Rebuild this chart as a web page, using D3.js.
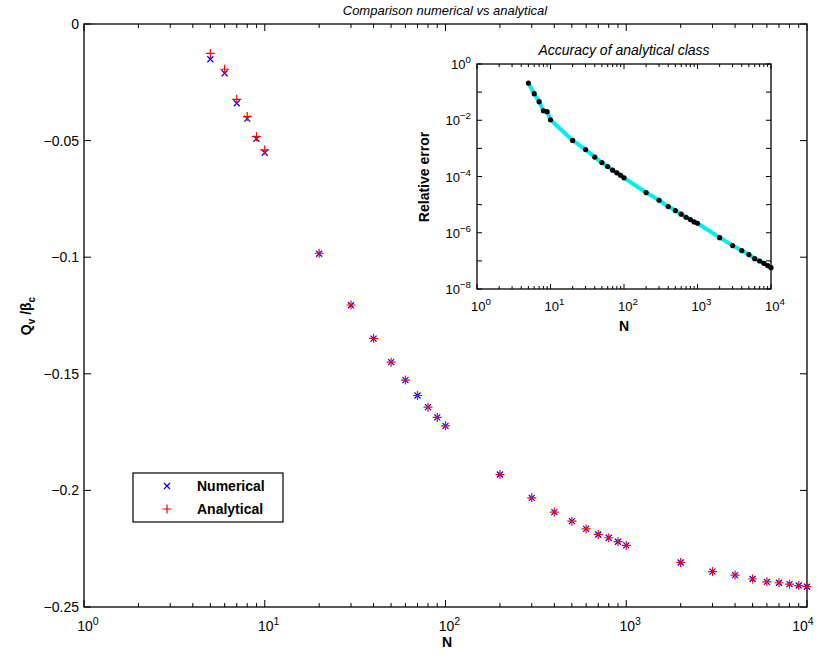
<!DOCTYPE html>
<html><head><meta charset="utf-8">
<script src="https://cdn.jsdelivr.net/npm/d3@7"></script>
<style>body{margin:0;background:#fff}svg{display:block;font-family:"Liberation Sans",Arial,sans-serif}</style>
</head><body>
<svg id="c" width="818" height="657"></svg>
<script>
const N = [5,6,7,8,9,10,20,30,40,50,60,70,80,90,100,200,300,400,500,600,700,800,900,1000,2000,3000,4000,5000,6000,7000,8000,9000,10000];
const numerical = [-0.0151,-0.0211,-0.0340,-0.0406,-0.0492,-0.0552,-0.0985,-0.1206,-0.1349,-0.1450,-0.1527,-0.1593,-0.1643,-0.1687,-0.1723,-0.1932,-0.2032,-0.2093,-0.2132,-0.2165,-0.2189,-0.2203,-0.2220,-0.2236,-0.2309,-0.2348,-0.2363,-0.2380,-0.2392,-0.2396,-0.2402,-0.2408,-0.2413];
const analytical = [-0.0126,-0.0194,-0.0323,-0.0397,-0.0483,-0.0540,-0.0983,-0.1205,-0.1348,-0.1450,-0.1527,-0.1593,-0.1643,-0.1687,-0.1723,-0.1932,-0.2032,-0.2093,-0.2132,-0.2165,-0.2189,-0.2203,-0.2220,-0.2236,-0.2309,-0.2348,-0.2363,-0.2380,-0.2392,-0.2396,-0.2402,-0.2408,-0.2413];
const relError = [0.21,0.088,0.0456,0.0218,0.0201,0.0104,1.91e-3,9.1e-4,4.9e-4,3.15e-4,2.27e-4,1.68e-4,1.35e-4,1.11e-4,8.97e-5,2.69e-5,1.43e-5,8.5e-6,6.15e-6,4.56e-6,3.56e-6,2.94e-6,2.43e-6,2.18e-6,6.7e-7,3.5e-7,2.32e-7,1.67e-7,1.2e-7,9.9e-8,8.2e-8,6.8e-8,5.75e-8];
const yTicks = [0,-0.05,-0.1,-0.15,-0.2,-0.25];
const yTickLabels = ["0","\u22120.05","\u22120.1","\u22120.15","\u22120.2","\u22120.25"];
const xDecades = [0,1,2,3,4];
const insetYDecades = [0,-2,-4,-6,-8];

const svg = d3.select("#c");
const FONT = "'Liberation Sans',Arial,sans-serif";

const x = d3.scaleLog().domain([1,1e4]).range([84,807]);
const y = d3.scaleLinear().domain([-0.25,0]).range([607,24]);

function drawLogXTicks(g, sx, yb, yt, majLen, minLen) {
  const lo = Math.log10(sx.domain()[0]), hi = Math.log10(sx.domain()[1]);
  const mins = [];
  for (let d=lo; d<hi; d++) for (let k=2;k<=9;k++) mins.push(k*Math.pow(10,d));
  const majs = d3.range(lo, hi+1).map(d=>Math.pow(10,d));
  majs.forEach(v=>{
    g.append("line").attr("x1",sx(v)).attr("x2",sx(v)).attr("y1",yb).attr("y2",yb-majLen).attr("stroke","#000");
    g.append("line").attr("x1",sx(v)).attr("x2",sx(v)).attr("y1",yt).attr("y2",yt+majLen).attr("stroke","#000");
  });
  mins.forEach(v=>{
    g.append("line").attr("x1",sx(v)).attr("x2",sx(v)).attr("y1",yb).attr("y2",yb-minLen).attr("stroke","#000");
    g.append("line").attr("x1",sx(v)).attr("x2",sx(v)).attr("y1",yt).attr("y2",yt+minLen).attr("stroke","#000");
  });
}
function powLabel(g, px, py, exp, size, anchor) {
  const t = g.append("text").attr("x",px).attr("y",py).attr("font-size",size).attr("font-family",FONT).attr("text-anchor",anchor||"middle");
  t.append("tspan").text("10");
  t.append("tspan").attr("dy",-size*0.45).attr("font-size",size*0.75).text(exp<0 ? "\u2212"+(-exp) : String(exp));
  return t;
}

const main = svg.append("g");
drawLogXTicks(main, x, 607, 24, 7, 4);
yTicks.forEach((v,i)=>{
  main.append("line").attr("x1",84).attr("x2",91).attr("y1",y(v)).attr("y2",y(v)).attr("stroke","#000");
  main.append("line").attr("x1",807).attr("x2",800).attr("y1",y(v)).attr("y2",y(v)).attr("stroke","#000");
  main.append("text").attr("x",79).attr("y",y(v)+5).attr("text-anchor","end").attr("font-size",14).attr("font-family",FONT).text(yTickLabels[i]);
});
xDecades.forEach(d=>powLabel(main, Math.min(x(Math.pow(10,d))+4, 803), 631, d, 14));
main.append("rect").attr("x",84).attr("y",24).attr("width",723).attr("height",583).attr("fill","none").attr("stroke","#000").attr("stroke-width",1.3);

svg.append("text").attr("x",445).attr("y",15).attr("text-anchor","middle").attr("font-size",13).attr("font-style","italic").attr("font-family",FONT).text("Comparison numerical vs analytical");
svg.append("text").attr("x",447).attr("y",647).attr("text-anchor","middle").attr("font-size",14).attr("font-weight","bold").attr("font-family",FONT).text("N");
const yl = svg.append("text").attr("transform","translate(31,316) rotate(-90)").attr("text-anchor","middle").attr("font-size",14).attr("font-weight","bold").attr("font-family",FONT);
yl.append("tspan").text("Q");
yl.append("tspan").attr("dy",4).attr("font-size",10).text("v");
yl.append("tspan").attr("dy",-4).text(" /\u03B2");
yl.append("tspan").attr("dy",4).attr("font-size",10).text("c");

const pts = main.append("g");
N.forEach((n,i)=>{
  const cx = x(n), cy = y(numerical[i]), s=3;
  pts.append("path").attr("d",`M${cx-s},${cy-s}L${cx+s},${cy+s}M${cx-s},${cy+s}L${cx+s},${cy-s}`).attr("stroke","#0000ff").attr("stroke-width",1.2).attr("fill","none");
});
N.forEach((n,i)=>{
  const cx = x(n), cy = y(analytical[i]), s=4.5;
  pts.append("path").attr("d",`M${cx-s},${cy}L${cx+s},${cy}M${cx},${cy-s}L${cx},${cy+s}`).attr("stroke","#ff0000").attr("stroke-width",1.2).attr("fill","none");
});

const lg = svg.append("g");
lg.append("rect").attr("x",133).attr("y",473).attr("width",150).attr("height",49).attr("fill","#fff").attr("stroke","#000").attr("stroke-width",1.2);
{ const cx=167, cy=486, s=3;
  lg.append("path").attr("d",`M${cx-s},${cy-s}L${cx+s},${cy+s}M${cx-s},${cy+s}L${cx+s},${cy-s}`).attr("stroke","#0000ff").attr("stroke-width",1.2); }
{ const cx=167, cy=509, s=4.5;
  lg.append("path").attr("d",`M${cx-s},${cy}L${cx+s},${cy}M${cx},${cy-s}L${cx},${cy+s}`).attr("stroke","#ff0000").attr("stroke-width",1.2); }
lg.append("text").attr("x",197).attr("y",491).attr("font-size",14).attr("font-weight","bold").attr("font-family",FONT).text("Numerical");
lg.append("text").attr("x",197).attr("y",514).attr("font-size",14).attr("font-weight","bold").attr("font-family",FONT).text("Analytical");

const ix = d3.scaleLog().domain([1,1e4]).range([477,771]);
const iy = d3.scaleLog().domain([1e-8,1]).range([289,64]);
const ins = svg.append("g");
ins.append("rect").attr("x",477).attr("y",64).attr("width",294).attr("height",225).attr("fill","#fff");
drawLogXTicks(ins, ix, 289, 64, 5, 3);
d3.range(-8,1).forEach(d=>{
  const v=Math.pow(10,d);
  ins.append("line").attr("x1",477).attr("x2",482).attr("y1",iy(v)).attr("y2",iy(v)).attr("stroke","#000");
  ins.append("line").attr("x1",771).attr("x2",766).attr("y1",iy(v)).attr("y2",iy(v)).attr("stroke","#000");
});
insetYDecades.forEach(d=>powLabel(ins, 471, iy(Math.pow(10,d))+5, d, 13, "end"));
xDecades.forEach(d=>powLabel(ins, ix(Math.pow(10,d))+4, 311, d, 13));
ins.append("rect").attr("x",477).attr("y",64).attr("width",294).attr("height",225).attr("fill","none").attr("stroke","#000").attr("stroke-width",1.3);
ins.append("text").attr("x",624).attr("y",55).attr("text-anchor","middle").attr("font-size",14).attr("font-style","italic").attr("font-family",FONT).text("Accuracy of analytical class");
ins.append("text").attr("x",624).attr("y",331).attr("text-anchor","middle").attr("font-size",14).attr("font-weight","bold").attr("font-family",FONT).text("N");
ins.append("text").attr("transform","translate(429,177) rotate(-90)").attr("text-anchor","middle").attr("font-size",14).attr("font-weight","bold").attr("font-family",FONT).text("Relative error");
const line = d3.line().x((d,i)=>ix(N[i])).y(d=>iy(d));
ins.append("path").datum(relError).attr("d",line).attr("fill","none").attr("stroke","#00eeee").attr("stroke-width",4).attr("stroke-linejoin","round");
relError.forEach((v,i)=>{
  ins.append("circle").attr("cx",ix(N[i])).attr("cy",iy(v)).attr("r",2.6).attr("fill","#000");
});
</script>
</body></html>
